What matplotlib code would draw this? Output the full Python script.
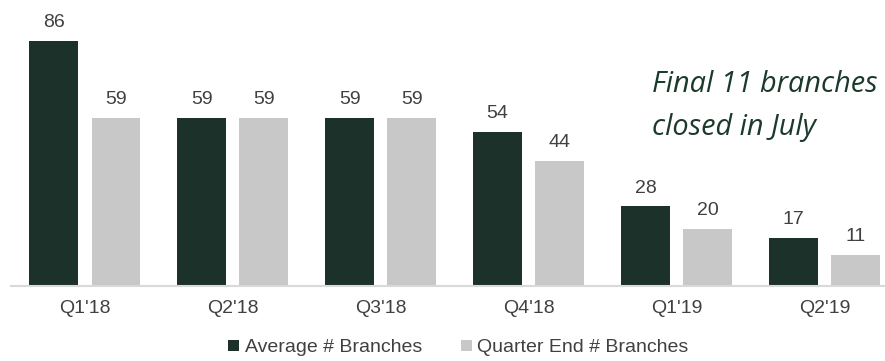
import numpy as np
import matplotlib
matplotlib.use('Agg')
import matplotlib.pyplot as plt

quarters = ["Q1'18", "Q2'18", "Q3'18", "Q4'18", "Q1'19", "Q2'19"]
average_branches = [86, 59, 59, 54, 28, 17]
quarter_end_branches = [59, 59, 59, 44, 20, 11]

dark = '#1b3129'
light = '#c8c8c8'
text_col = '#404040'

plt.rcParams['font.family'] = ['Liberation Sans', 'DejaVu Sans']

fig = plt.figure(figsize=(8.85, 3.61), dpi=100)
ax = fig.add_axes([11 / 885, 75 / 361, 874 / 885, 286 / 361])

x = np.arange(len(quarters))
w = 0.33
off = 0.21
b1 = ax.bar(x - off, average_branches, w, color=dark, label='Average # Branches')
b2 = ax.bar(x + off, quarter_end_branches, w, color=light, label='Quarter End # Branches')

for bars in (b1, b2):
    for r in bars:
        ax.annotate(str(int(r.get_height())), (r.get_x() + r.get_width() / 2, r.get_height()),
                    xytext=(0, 7), textcoords='offset points', ha='center', va='bottom',
                    fontsize=14, color=text_col)

ax.set_xlim(-0.5, 5.41)
ax.set_ylim(0, 100.4)
ax.set_xticks(x)
ax.set_xticklabels(quarters, fontsize=14, color=text_col)
ax.tick_params(axis='x', length=0, pad=10)
ax.set_yticks([])
for s in ['top', 'right', 'left']:
    ax.spines[s].set_visible(False)
ax.spines['bottom'].set_color('#d9d9d9')
ax.spines['bottom'].set_linewidth(1.5)

note = dict(fontsize=20.8, style='italic', family='Open Sans',
            color='#1b3a2c', va='center', ha='left')
fig.text(652 / 885, 1 - 84 / 361, 'Final 11 branches', **note)
fig.text(652 / 885, 1 - 127 / 361, 'closed in July', **note)

fig.legend(loc='center', bbox_to_anchor=(0.5 + 16 / 885, 1 - 348 / 361), ncol=2, frameon=False,
           fontsize=14, handlelength=0.55, handleheight=0.55, handletextpad=0.3,
           columnspacing=2.0, labelcolor=text_col)

fig.savefig('out.png', dpi=100)
